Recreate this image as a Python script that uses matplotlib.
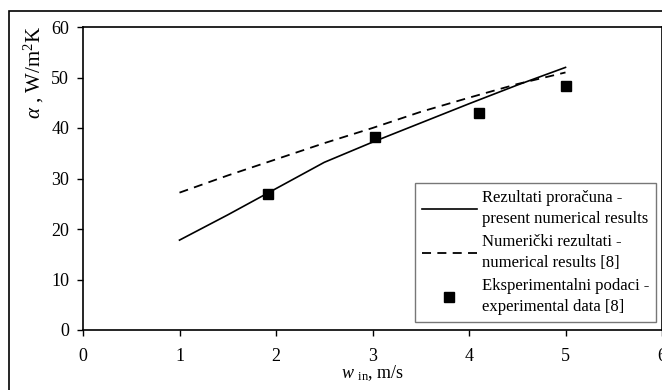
import matplotlib
matplotlib.use("Agg")
import matplotlib.pyplot as plt
from matplotlib.patches import Rectangle

plt.rcParams['font.family'] = ['Liberation Serif', 'DejaVu Serif']
plt.rcParams['mathtext.fontset'] = 'custom'
plt.rcParams['mathtext.rm'] = 'Liberation Serif'
plt.rcParams['mathtext.it'] = 'Liberation Serif:italic'

# data
w_calc = [1, 1.5, 2, 2.5, 3, 3.5, 4, 4.5, 5]
alpha_calc = [17.8, 22.8, 28.0, 33.2, 37.2, 41.0, 44.8, 48.5, 52.0]
alpha_num8 = [27.2, 30.6, 33.8, 37.0, 40.0, 43.2, 46.0, 48.7, 51.0]
w_exp = [1.92, 3.03, 4.1, 5.0]
alpha_exp = [27.0, 38.2, 43.0, 48.3]

fig = plt.figure(figsize=(6.62, 3.9), dpi=100)
ax = fig.add_axes([83/662, 60/390, 1 - 83/662, 303/390])

ax.plot(w_calc, alpha_calc, color='black', linewidth=1.2,
        label='Rezultati proračuna -\npresent numerical results')
ax.plot(w_calc, alpha_num8, color='black', linewidth=1.3, linestyle=(0, (5, 3.5)),
        label='Numerički rezultati -\nnumerical results [8]')
ax.plot(w_exp, alpha_exp, linestyle='none', marker='s', markersize=6.5,
        color='black', label='Eksperimentalni podaci -\nexperimental data [8]')

ax.set_xlim(0, 6)
ax.set_ylim(0, 60)
ax.set_xticks(range(0, 7))
ax.set_yticks(range(0, 61, 10))
ax.tick_params(direction='out', length=4, width=1, labelsize=13, pad=6)
ax.tick_params(axis='x', pad=9)
for s in ax.spines.values():
    s.set_linewidth(1.2)

ax.set_xlabel(r'$w$ $_{\rm in}$, m/s', fontsize=13, labelpad=-1)
ax.set_ylabel(r'$\alpha$ , W/m$^2$K', fontsize=15)
ax.yaxis.set_label_coords(-0.064, 0.85)

leg = ax.legend(loc='lower right', fontsize=12,
                frameon=True, fancybox=False, edgecolor='#555555',
                handlelength=3.3, handletextpad=0.3, labelspacing=0.4,
                borderpad=0.4, borderaxespad=0)
leg.set_bbox_to_anchor((656/662, 68/390), transform=fig.transFigure)
leg.get_frame().set_linewidth(1.0)
for t in leg.get_texts():
    t.set_linespacing(1.45)

# outer chart frame
fig.patches.append(Rectangle((9/662, -0.05), 1.0, 1 - 11/390 + 0.05,
                             transform=fig.transFigure, fill=False,
                             edgecolor='black', linewidth=1.2))

fig.savefig('out.png', dpi=100)
